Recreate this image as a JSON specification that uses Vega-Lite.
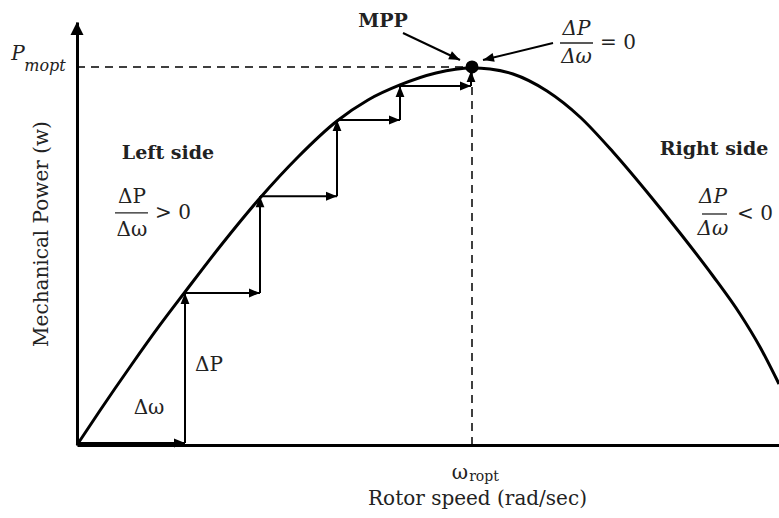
{
  "$schema": "https://vega.github.io/schema/vega-lite/v6.json",
  "autosize": "none",
  "width": 702,
  "height": 423,
  "padding": {"left": 77, "top": 22, "right": 0, "bottom": 73},
  "background": "white",
  "config": {
    "view": {"stroke": null},
    "axis": {"titleFont": "DejaVu Serif", "titleFontWeight": "normal", "titleFontSize": 20, "titleColor": "#222"},
    "text": {"font": "DejaVu Serif", "color": "#222", "baseline": "middle", "align": "center"}
  },
  "datasets": {
    "curve": [
      {"w": 0, "p": 0},
      {"w": 0.0582, "p": 0.0913},
      {"w": 0.1367, "p": 0.2103},
      {"w": 0.2101, "p": 0.3175},
      {"w": 0.2734, "p": 0.4048},
      {"w": 0.3671, "p": 0.5317},
      {"w": 0.4633, "p": 0.6534},
      {"w": 0.5595, "p": 0.7619},
      {"w": 0.6582, "p": 0.8571},
      {"w": 0.7367, "p": 0.9127},
      {"w": 0.8177, "p": 0.9524},
      {"w": 0.9089, "p": 0.9841},
      {"w": 1.0, "p": 0.9974},
      {"w": 1.0456, "p": 0.9947},
      {"w": 1.1038, "p": 0.9815},
      {"w": 1.1899, "p": 0.9365},
      {"w": 1.2734, "p": 0.8677},
      {"w": 1.357, "p": 0.7751},
      {"w": 1.443, "p": 0.6693},
      {"w": 1.5266, "p": 0.5608},
      {"w": 1.6101, "p": 0.4471},
      {"w": 1.6785, "p": 0.3466},
      {"w": 1.7291, "p": 0.2593},
      {"w": 1.7772, "p": 0.1614}
    ],
    "guides": [
      {"w": 0, "p": 1, "w2": 1, "p2": 1},
      {"w": 1, "p": 0, "w2": 1, "p2": 1}
    ],
    "arrows": [
      {"w": 0, "p": 0.0053, "w2": 0.2734, "p2": 0.0053, "head": "right"},
      {"w": 0.2734, "p": 0.0053, "w2": 0.2734, "p2": 0.4021, "head": "up"},
      {"w": 0.2734, "p": 0.4021, "w2": 0.4633, "p2": 0.4021, "head": "right"},
      {"w": 0.4633, "p": 0.4021, "w2": 0.4633, "p2": 0.658, "head": "up"},
      {"w": 0.4633, "p": 0.658, "w2": 0.6582, "p2": 0.658, "head": "right"},
      {"w": 0.6582, "p": 0.658, "w2": 0.6582, "p2": 0.8598, "head": "up"},
      {"w": 0.6582, "p": 0.8598, "w2": 0.8177, "p2": 0.8598, "head": "right"},
      {"w": 0.8177, "p": 0.8598, "w2": 0.8177, "p2": 0.9497, "head": "up"},
      {"w": 0.8177, "p": 0.9497, "w2": 0.9975, "p2": 0.9497, "head": "right"},
      {"w": 0.9975, "p": 0.9497, "w2": 0.9975, "p2": 0.9894, "head": "up"},
      {"w": 0.8253, "p": 1.0899, "w2": 0.9696, "p2": 1.0185, "head": "mpp"},
      {"w": 1.2051, "p": 1.0635, "w2": 1.0278, "p2": 1.0185, "head": "slope"}
    ],
    "bars": [
      {"w": 0.0962, "w2": 0.1797, "p": 0.6138},
      {"w": 1.5823, "w2": 1.6456, "p": 0.6111},
      {"w": 1.2228, "w2": 1.3063, "p": 1.0635}
    ],
    "boldText": [
      {"w": 0.7747, "p": 1.1217, "t": "MPP"},
      {"w": 0.2304, "p": 0.7725, "t": "Left side"},
      {"w": 1.6127, "p": 0.7831, "t": "Right side"}
    ],
    "mathText": [
      {"w": 0.1392, "p": 0.6561, "t": "ΔP"},
      {"w": 0.1392, "p": 0.5688, "t": "Δω"},
      {"w": 0.243, "p": 0.6138, "t": "> 0"},
      {"w": 0.3342, "p": 0.2116, "t": "ΔP"},
      {"w": 0.1823, "p": 0.0979, "t": "Δω"},
      {"w": 1.3696, "p": 1.0635, "t": "= 0"},
      {"w": 1.7165, "p": 0.6111, "t": "< 0"},
      {"w": 0.9696, "p": -0.0741, "t": "ω"}
    ],
    "italicText": [
      {"w": 1.2646, "p": 1.1005, "t": "ΔP"},
      {"w": 1.2646, "p": 1.0265, "t": "Δω"},
      {"w": 1.6101, "p": 0.6561, "t": "ΔP"},
      {"w": 1.6101, "p": 0.5714, "t": "Δω"},
      {"w": -0.1494, "p": 1.0344, "t": "P"}
    ],
    "subItalic": [
      {"w": -0.081, "p": 1.0026, "t": "mopt"}
    ],
    "subUpright": [
      {"w": 1.0304, "p": -0.0847, "t": "ropt"}
    ]
  },
  "layer": [
    {
      "data": {"name": "curve"},
      "mark": {"type": "line", "interpolate": "monotone", "color": "#000", "strokeWidth": 3},
      "encoding": {
        "x": {
          "field": "w", "type": "quantitative",
          "scale": {"domain": [0, 1.7772], "nice": false, "zero": false},
          "axis": {"title": "Rotor speed (rad/sec)", "labels": false, "ticks": false, "grid": false,
                   "domainColor": "#000", "domainWidth": 3, "titlePadding": 43, "titleX": 400, "titleAnchor": "middle"}
        },
        "y": {
          "field": "p", "type": "quantitative",
          "scale": {"domain": [0, 1.119], "nice": false, "zero": false},
          "axis": {"title": "Mechanical Power (w)", "labels": false, "ticks": false, "grid": false,
                   "domainColor": "#000", "domainWidth": 3, "titlePadding": 26}
        }
      }
    },
    {
      "data": {"name": "guides"},
      "mark": {"type": "rule", "color": "#000", "strokeWidth": 1.5, "strokeDash": [8, 6]},
      "encoding": {
        "x": {"field": "w", "type": "quantitative"},
        "y": {"field": "p", "type": "quantitative"},
        "x2": {"field": "w2"},
        "y2": {"field": "p2"}
      }
    },
    {
      "data": {"name": "arrows"},
      "mark": {"type": "rule", "color": "#000", "strokeWidth": 2},
      "encoding": {
        "x": {"field": "w", "type": "quantitative"},
        "y": {"field": "p", "type": "quantitative"},
        "x2": {"field": "w2"},
        "y2": {"field": "p2"}
      }
    },
    {
      "data": {"name": "arrows"},
      "transform": [{"filter": "datum.head === 'right'"}],
      "mark": {"type": "point", "shape": "M0,0L-1,-0.4L-1,0.4Z", "filled": true, "color": "#000", "opacity": 1, "size": 484, "strokeWidth": 0},
      "encoding": {
        "x": {"field": "w2", "type": "quantitative"},
        "y": {"field": "p2", "type": "quantitative"}
      }
    },
    {
      "data": {"name": "arrows"},
      "transform": [{"filter": "datum.head === 'up'"}],
      "mark": {"type": "point", "shape": "M0,0L-0.4,1L0.4,1Z", "filled": true, "color": "#000", "opacity": 1, "size": 484, "strokeWidth": 0},
      "encoding": {
        "x": {"field": "w2", "type": "quantitative"},
        "y": {"field": "p2", "type": "quantitative"}
      }
    },
    {
      "data": {"name": "arrows"},
      "transform": [{"filter": "datum.head === 'mpp'"}],
      "mark": {"type": "point", "shape": "M0,0L-1.075,-0.065L-0.733,-0.789Z", "filled": true, "color": "#000", "opacity": 1, "size": 484, "strokeWidth": 0},
      "encoding": {
        "x": {"field": "w2", "type": "quantitative"},
        "y": {"field": "p2", "type": "quantitative"}
      }
    },
    {
      "data": {"name": "arrows"},
      "transform": [{"filter": "datum.head === 'slope'"}],
      "mark": {"type": "point", "shape": "M0,0L0.878,-0.625L1.066,0.153Z", "filled": true, "color": "#000", "opacity": 1, "size": 484, "strokeWidth": 0},
      "encoding": {
        "x": {"field": "w2", "type": "quantitative"},
        "y": {"field": "p2", "type": "quantitative"}
      }
    },
    {
      "data": {"values": [{"w": 0, "p": 1.119}]},
      "mark": {"type": "point", "shape": "M0,0L-0.5,1L0.5,1Z", "filled": true, "color": "#000", "opacity": 1, "size": 676, "strokeWidth": 0},
      "encoding": {
        "x": {"field": "w", "type": "quantitative"},
        "y": {"field": "p", "type": "quantitative"}
      }
    },
    {
      "data": {"values": [{"w": 1, "p": 1}]},
      "mark": {"type": "point", "shape": "circle", "filled": true, "color": "#000", "opacity": 1, "size": 170},
      "encoding": {
        "x": {"field": "w", "type": "quantitative"},
        "y": {"field": "p", "type": "quantitative"}
      }
    },
    {
      "data": {"name": "bars"},
      "mark": {"type": "rule", "color": "#222", "strokeWidth": 1.3},
      "encoding": {
        "x": {"field": "w", "type": "quantitative"},
        "x2": {"field": "w2"},
        "y": {"field": "p", "type": "quantitative"}
      }
    },
    {
      "data": {"name": "boldText"},
      "mark": {"type": "text", "fontWeight": "bold", "fontSize": 19},
      "encoding": {
        "x": {"field": "w", "type": "quantitative"},
        "y": {"field": "p", "type": "quantitative"},
        "text": {"field": "t"}
      }
    },
    {
      "data": {"name": "mathText"},
      "mark": {"type": "text", "fontSize": 20},
      "encoding": {
        "x": {"field": "w", "type": "quantitative"},
        "y": {"field": "p", "type": "quantitative"},
        "text": {"field": "t"}
      }
    },
    {
      "data": {"name": "italicText"},
      "mark": {"type": "text", "fontSize": 20, "fontStyle": "italic"},
      "encoding": {
        "x": {"field": "w", "type": "quantitative"},
        "y": {"field": "p", "type": "quantitative"},
        "text": {"field": "t"}
      }
    },
    {
      "data": {"name": "subItalic"},
      "mark": {"type": "text", "fontSize": 16, "fontStyle": "italic"},
      "encoding": {
        "x": {"field": "w", "type": "quantitative"},
        "y": {"field": "p", "type": "quantitative"},
        "text": {"field": "t"}
      }
    },
    {
      "data": {"name": "subUpright"},
      "mark": {"type": "text", "fontSize": 14},
      "encoding": {
        "x": {"field": "w", "type": "quantitative"},
        "y": {"field": "p", "type": "quantitative"},
        "text": {"field": "t"}
      }
    }
  ]
}
